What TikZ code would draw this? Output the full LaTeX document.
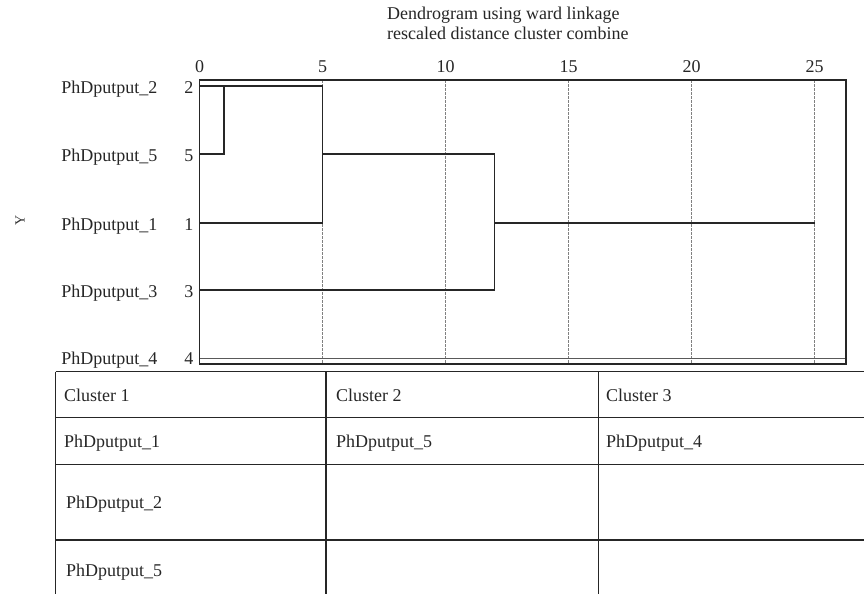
\documentclass[tikz,border=0pt]{standalone}
\usepackage{fontspec}
\setmainfont{Liberation Serif}
\begin{document}
\begin{tikzpicture}[x=1pt,y=-1pt,
  lbl/.style={font=\fontsize{18}{20}\selectfont, inner sep=0pt, text=black!85},
  dend/.style={line width=1.3pt, draw=black!85},
  gridline/.style={line width=0.7pt, draw=black!50, dash pattern=on 2.5pt off 1.5pt},
  tbl/.style={line width=1.4pt, draw=black!85}]
\useasboundingbox (0,0) rectangle (864,594);
\clip (0,0) rectangle (864,594);

% title
\node[lbl, anchor=base west] (t1) at (387,20) {Dendrogram using ward linkage};
\node[lbl, anchor=base west] (t2) at (387,40) {rescaled distance cluster combine};

% tick labels
\foreach \v/\x in {0/199.5,5/322.5,10/445.5,15/568.5,20/691.5,25/814.5}
  \node[lbl, anchor=base] (tick\v) at (\x,72) {\v};

% dashed grid
\draw[gridline] (322.5,80) -- (322.5,364);
\foreach \x in {445.5,568.5,691.5,814.5}
  \draw[gridline] (\x,80) -- (\x,364);

% row labels
\foreach \n/\y in {2/86,5/154,1/223,3/290,4/357}{
  \node[lbl, anchor=base east] (name\n) at (157.5,{\y+7}) {PhDputput\_\n};
  \node[lbl, anchor=base east] (num\n) at (193.5,{\y+7}) {\n};
}

% axis label
\node[font=\fontsize{14}{14}\selectfont, rotate=90, text=black!80, inner sep=0pt] (ylab) at (20,220) {Y};

% dendrogram
\draw[dend] (199.5,86) -- (322.5,86) -- (322.5,223) -- (199.5,223);
\draw[dend] (199.5,154) -- (224,154) -- (224,86);
\draw[dend] (322.5,154) -- (494.5,154) -- (494.5,290) -- (199.5,290);
\draw[dend] (494.5,223) -- (814.5,223);
\draw[line width=1.6pt, draw=black!65] (199.5,358.5) -- (846,358.5);
\draw[dend] (199.5,80) rectangle (846,364);

% table
\foreach \y in {371.5,417.5,464.5,540}
  \draw[tbl] (55.5,\y) -- (864,\y);
\foreach \x in {55.5,326,598.5}
  \draw[tbl] (\x,371.5) -- (\x,594);

\node[lbl, anchor=base west] (c1) at (64,401.5) {Cluster 1};
\node[lbl, anchor=base west] (c2) at (336,401.5) {Cluster 2};
\node[lbl, anchor=base west] (c3) at (606,401.5) {Cluster 3};
\node[lbl, anchor=base west] (c1a) at (64,447) {PhDputput\_1};
\node[lbl, anchor=base west] (c2a) at (336,447) {PhDputput\_5};
\node[lbl, anchor=base west] (c3a) at (606,447) {PhDputput\_4};
\node[lbl, anchor=base west] (c1b) at (66,508) {PhDputput\_2};
\node[lbl, anchor=base west] (c1c) at (66,576) {PhDputput\_5};
\end{tikzpicture}
\end{document}
